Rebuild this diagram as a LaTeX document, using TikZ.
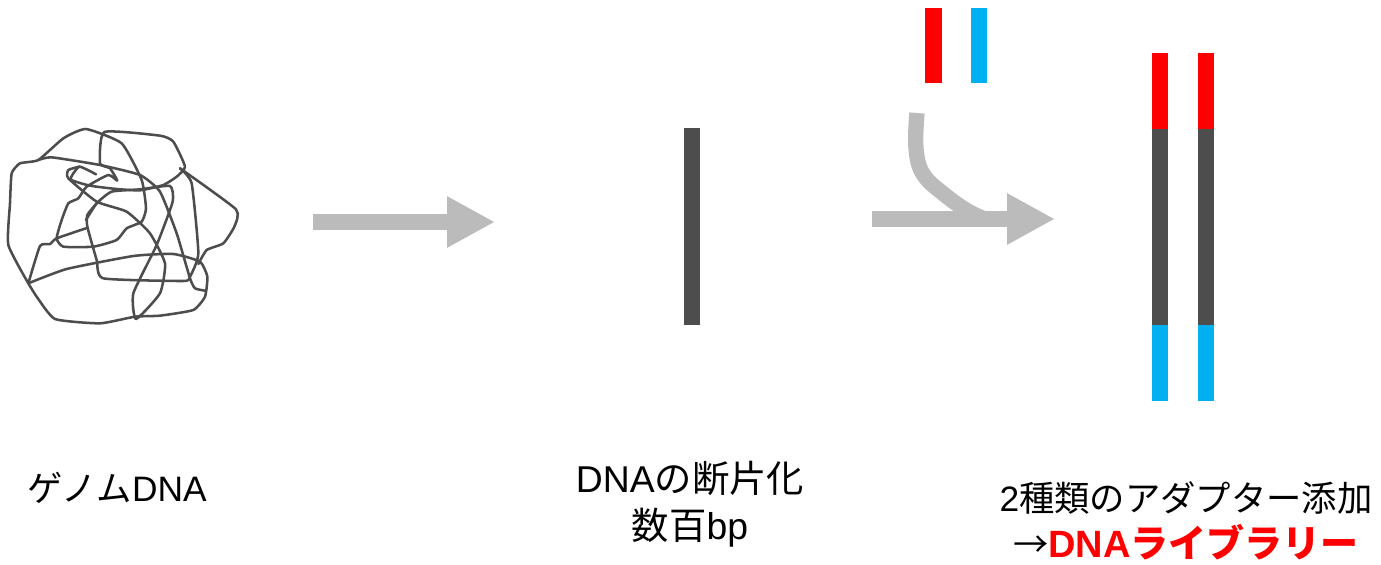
\documentclass[tikz,border=0pt]{standalone}
\usepackage{fontspec}
\setmainfont{Liberation Sans}
\newfontfamily\cjk{Noto Sans CJK JP}
\usetikzlibrary{arrows.meta}
\definecolor{strand}{RGB}{77,77,77}
\definecolor{flow}{RGB}{187,187,187}
\definecolor{adaptblue}{RGB}{0,176,240}
\tikzset{
  label/.style={font=\fontsize{26.5}{35}\selectfont,align=center,text=black},
  tangle/.style={color=strand,line width=1.9pt,line join=round,line cap=round,smooth,tension=0.3},
  flowarrow/.style={color=flow,line width=12pt,-{Triangle[length=36pt,width=36pt]}},
}
\begin{document}
\begin{tikzpicture}[x=0.75pt,y=-0.75pt]
    \useasboundingbox (0,0) rectangle (1381,564);

    %Genomic DNA tangle
    \begin{scope}[shift={(0,120)},x=0.25pt,y=-0.25pt]
      \draw [tangle] plot coordinates {(288,163) (238,140) (212,178) (270,197) (350,207) (420,211) (490,195) (530,170) (555,140) (520,65) (480,47) (313,36) (300,130) (330,145) (352,182) (325,165) (260,200) (235,235) (205,250) (185,300) (170,355) (190,380) (280,380) (350,360) (380,325) (425,305) (438,265) (425,180) (365,70) (258,27) (190,55) (115,120) (60,130) (35,160) (30,250) (25,375) (85,490)};
      \draw [tangle] plot coordinates {(85,490) (120,378) (150,372) (170,355) (258,325)};
      \draw [tangle] plot coordinates {(258,300) (290,250) (335,215) (420,208) (510,198) (518,245) (470,375) (400,520) (408,597) (480,520) (495,430) (450,340) (380,275) (290,245) (205,175) (205,150) (238,140)};
      \draw [tangle] plot coordinates {(115,120) (155,112) (300,135) (420,165) (480,215) (530,340) (570,475) (585,505) (615,512)};
      \draw [tangle] plot coordinates {(540,145) (575,190) (595,400) (570,470) (550,483) (310,475) (290,420) (262,320) (262,285) (290,250)};
      \draw [tangle] plot coordinates {(540,145) (708,268) (703,320) (670,370) (620,390) (595,432)};
      \draw [tangle] plot coordinates {(85,490) (200,447) (400,408) (520,402) (600,425) (622,470) (615,530) (580,570) (480,587) (405,590) (300,610) (165,597) (110,530) (85,490)};
    \end{scope}

    %Fragment bar
    \fill [strand] (684,128) rectangle (700,325);

    %Adapters
    \fill [red] (925,8) rectangle (942,83);
    \fill [adaptblue] (971,8) rectangle (987,83);

    %Library strands
    \foreach \x in {1152,1198} {
      \fill [red] (\x,53) rectangle (\x+16,129);
      \fill [strand] (\x,129) rectangle (\x+16,325);
      \fill [adaptblue] (\x,325) rectangle (\x+16,401);
    }

    %Arrows
    \coordinate (fragstart) at (313,222);
    \coordinate (fragend) at (495,222);
    \coordinate (ligstart) at (872,219);
    \coordinate (ligend) at (1055,219);
    \coordinate (joinstart) at (917,113);
    \coordinate (joinend) at (985,219);
    \draw [flowarrow] (fragstart) -- (fragend);
    \draw [color=flow,line width=11.5pt] (joinstart) .. controls (913,160) and (918,173) .. (935,187) .. controls (950,199) and (965,212) .. (joinend);
    \draw [flowarrow] (ligstart) -- (ligend);

    % Text Node
    \node [label] (genome) at (117,488) {{\cjk ゲノム}DNA};
    % Text Node
    \node [label,font=\fontsize{28}{35}\selectfont] (fragment) at (690,504) {DNA{\cjk の断片化}\\{\cjk 数百}bp};
    % Text Node
    \node [label] (adapter) at (1186,521) {2{\cjk 種類のアダプター添加}\\{\cjk →}\textcolor{red}{\fontsize{28.5}{35}\selectfont\bfseries DNA{\cjk ライブラリー}}};

\end{tikzpicture}
\end{document}
